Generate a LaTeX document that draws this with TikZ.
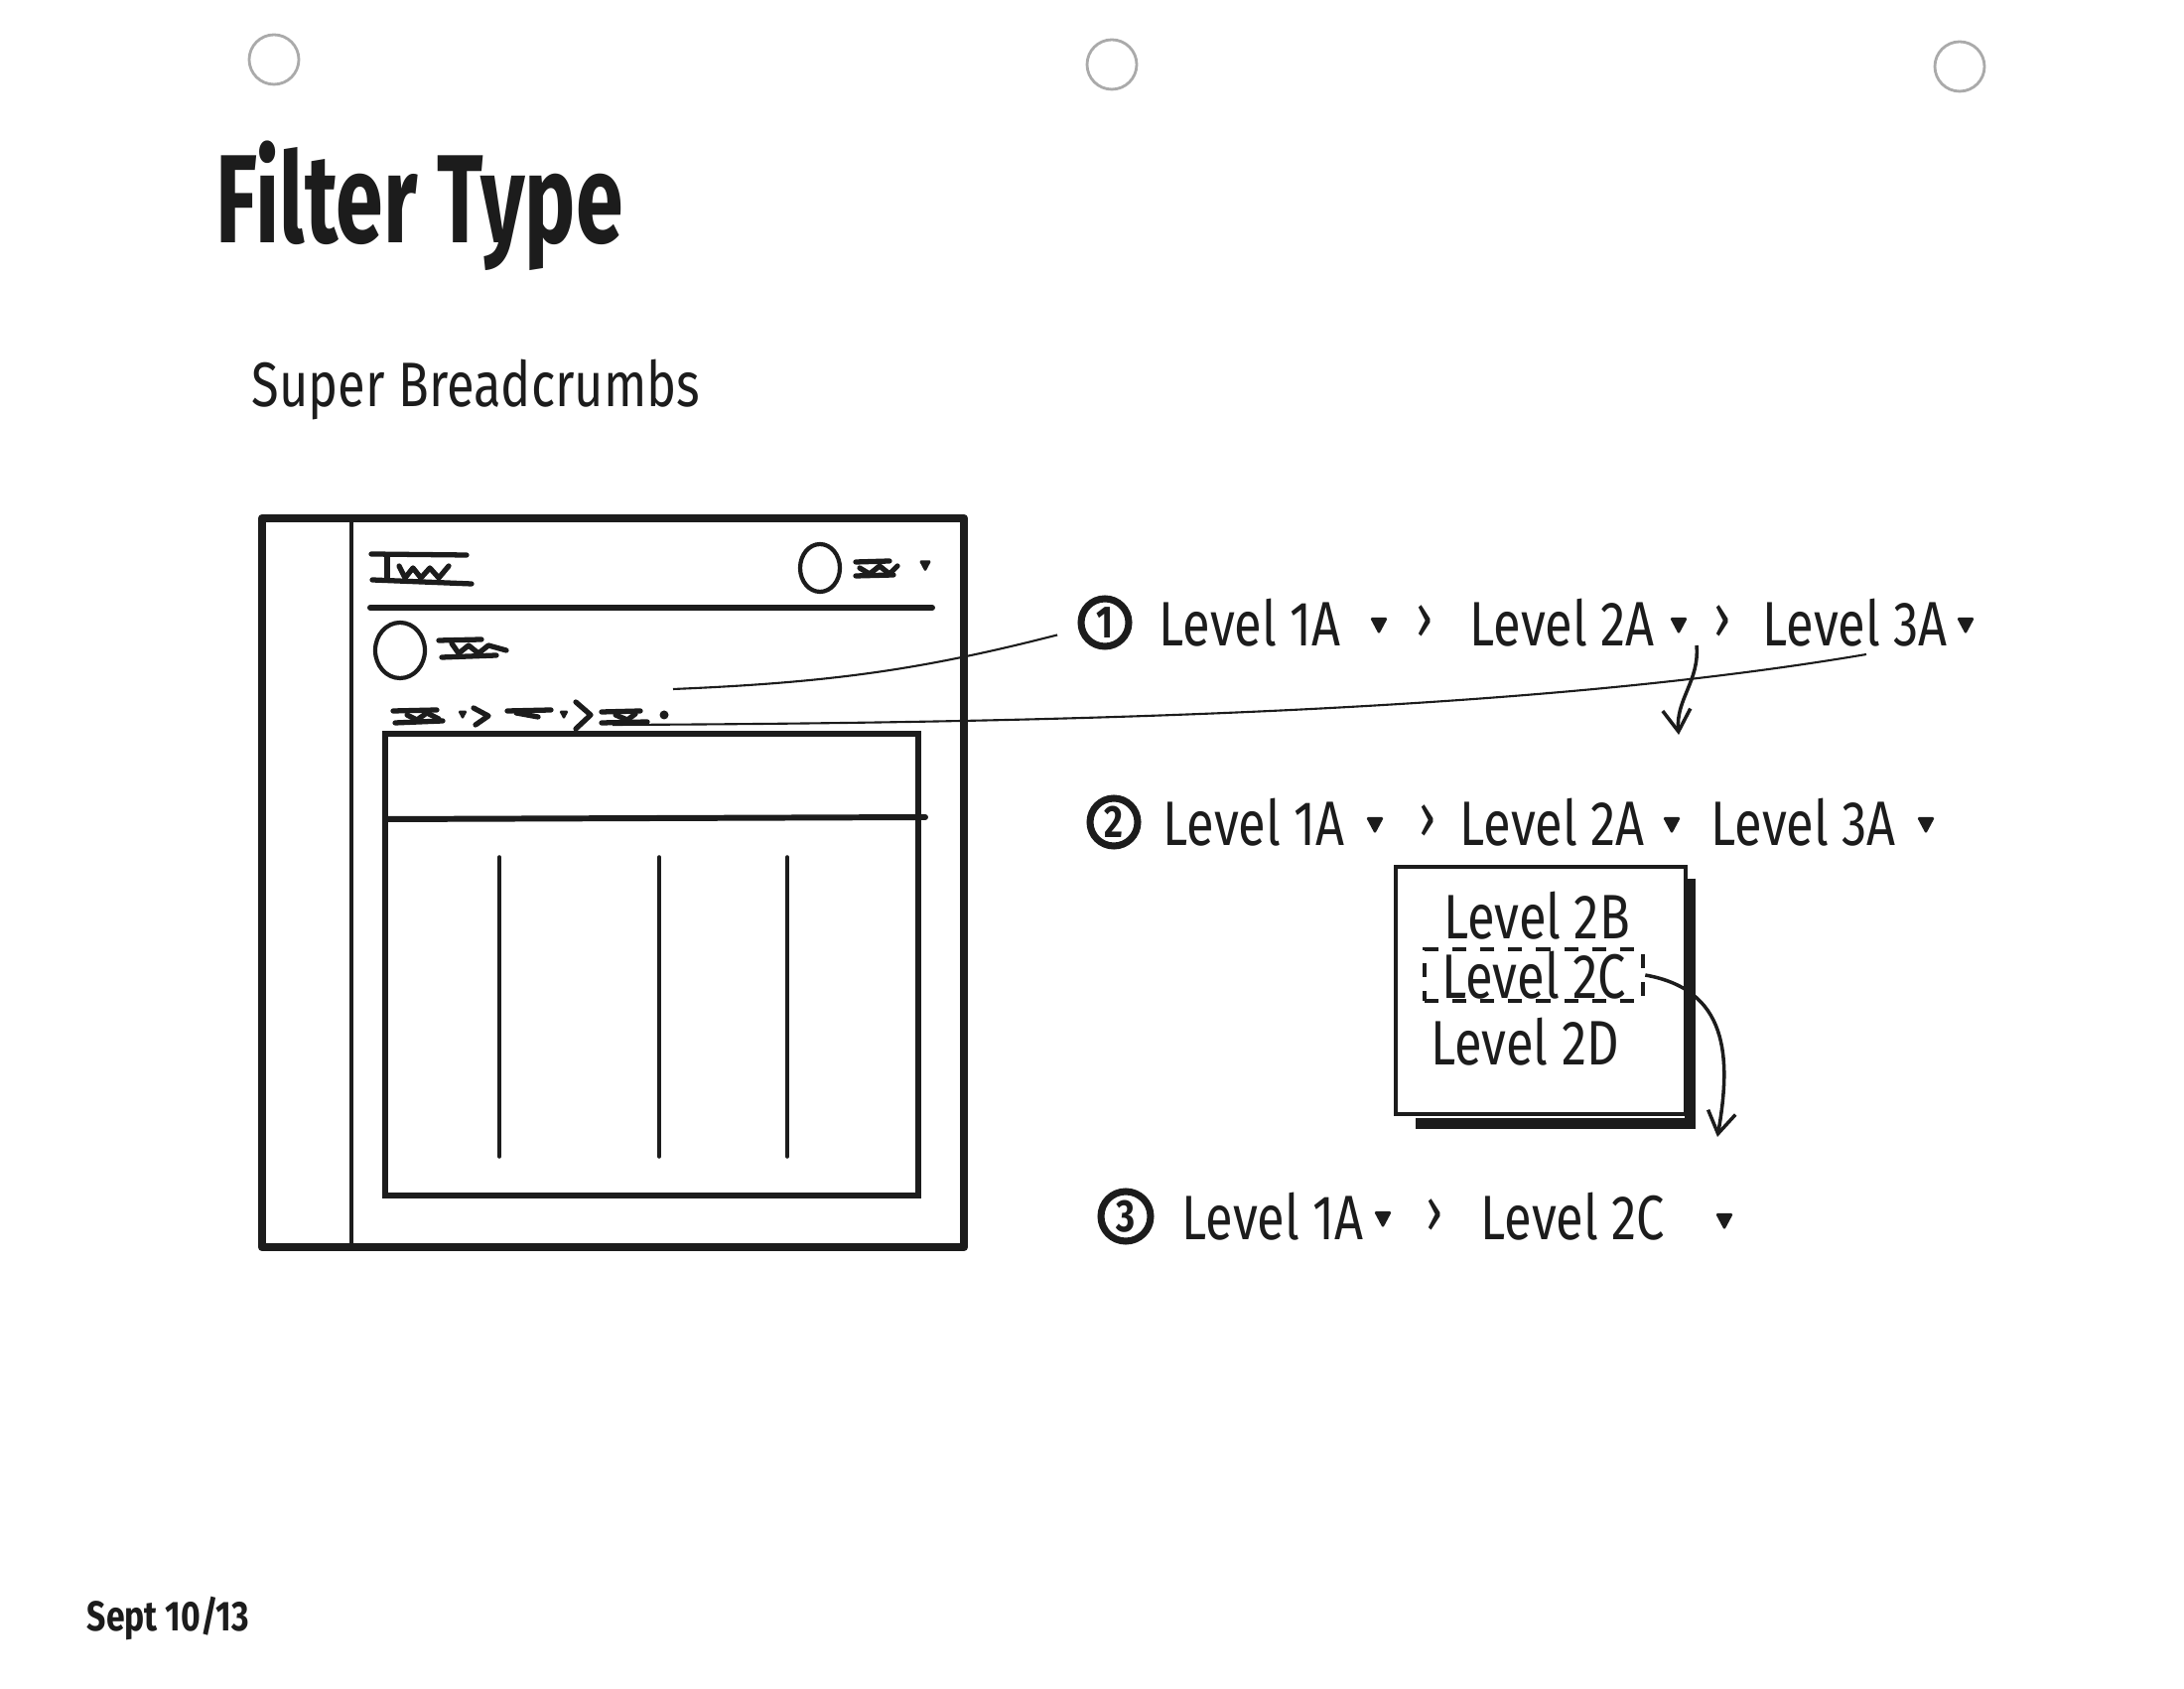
\documentclass[tikz,border=0pt]{standalone}
\usepackage{fontspec}
\newfontfamily\handfont[FakeStretch=0.8]{Fira Sans}
\newfontfamily\titlefont[FakeStretch=0.68]{Fira Sans}
\definecolor{Ink}{RGB}{28,28,28}
\definecolor{Punch}{RGB}{170,170,170}
\usetikzlibrary{arrows.meta,positioning,calc}
\tikzset{caret/.pic={\fill[Ink,rounded corners=0.5pt] (-0.09,0.08) -- (0.09,0.08) -- (0,-0.09) -- cycle;}}

\begin{document}
\begin{tikzpicture}[every node/.style={font=\handfont\fontsize{18}{20}\selectfont,text=Ink},
    crumb/.style={anchor=west,inner sep=0pt},
    sep/.style={inner sep=0pt},
    num/.style={circle,draw=Ink,line width=2pt,minimum size=0.48cm,inner sep=0pt,
                font=\handfont\bfseries\fontsize{13}{14}\selectfont},
    frame/.style={draw=Ink,line width=2.4pt,line join=round},
    rule/.style={draw=Ink,line width=1.7pt,line cap=round},
    thin/.style={draw=Ink,line width=1pt,line cap=round},
    scrib/.style={draw=Ink,line width=1.5pt,line cap=round,line join=round},
    lead/.style={draw=Ink,line width=0.6pt},
    arr/.style={draw=Ink,line width=1pt,-{Straight Barb[length=2.2mm,width=2.8mm]}}]
    \fill[white] (0,0) rectangle (22,17);
    \useasboundingbox (0,0) rectangle (22,17);
    % punch holes
    \foreach \x/\y in {2.76/16.40,11.20/16.35,19.74/16.33}
      \draw[Punch,line width=0.8pt] (\x,\y) circle (0.25);
    % headings
    \node[anchor=base west,inner sep=0pt,font=\titlefont\bfseries\fontsize{36}{40}\selectfont] (title) at (2.17,14.55) {Filter Type};
    \node[anchor=base west,inner sep=0pt,font=\handfont\fontsize{18}{22}\selectfont] (subtitle) at (2.53,12.90) {Super Breadcrumbs};
    \node[anchor=base west,inner sep=0pt,font=\handfont\bfseries\fontsize{12}{14}\selectfont] (date) at (0.87,0.58) {Sept 10/13};
    % page mockup
    \draw[frame] (2.64,11.78) rectangle (9.71,4.44);
    \draw[thin] (3.54,11.76) -- (3.54,4.47);
    \draw[scrib] (3.74,11.42) -- (4.70,11.41);
    \draw[scrib] (3.90,11.40) -- (3.90,11.17);
    \draw[scrib] (4.02,11.30) -- (4.08,11.18) -- (4.16,11.28) -- (4.24,11.18) -- (4.33,11.28) -- (4.42,11.18) -- (4.52,11.30);
    \draw[scrib] (3.75,11.16) -- (4.75,11.12);
    \draw[scrib,line width=1.2pt] (8.26,11.28) ellipse (0.2 and 0.24);
    \draw[scrib] (8.62,11.34) -- (8.96,11.35);
    \draw[scrib] (8.66,11.28) -- (8.76,11.22) -- (8.86,11.30) -- (8.96,11.22) -- (9.04,11.30);
    \draw[scrib] (8.62,11.20) -- (9.00,11.21);
    \pic[scale=0.7] at (9.32,11.30) {caret};
    \draw[rule] (3.73,10.88) -- (9.39,10.88);
    \draw[scrib,line width=1.2pt] (4.03,10.45) ellipse (0.25 and 0.28);
    \draw[scrib] (4.42,10.55) -- (4.85,10.56);
    \draw[scrib] (4.55,10.52) -- (4.62,10.42) -- (4.72,10.50) -- (4.82,10.42) -- (4.92,10.50) -- (5.10,10.45);
    \draw[scrib] (4.45,10.38) -- (5.00,10.40);
    % breadcrumb placeholder
    \draw[scrib] (3.96,9.84) -- (4.40,9.85);
    \draw[scrib] (4.10,9.80) -- (4.20,9.75) -- (4.30,9.82) -- (4.42,9.76);
    \draw[scrib] (3.98,9.72) -- (4.46,9.74);
    \pic[scale=0.55] at (4.66,9.80) {caret};
    \draw[scrib] (4.77,9.87) -- (4.92,9.79) -- (4.79,9.70);
    \draw[scrib] (5.11,9.84) -- (5.55,9.85);
    \draw[scrib] (5.20,9.82) -- (5.42,9.78);
    \pic[scale=0.55] at (5.68,9.80) {caret};
    \draw[scrib] (5.80,9.93) -- (5.95,9.80) -- (5.80,9.66);
    \draw[scrib] (6.06,9.83) -- (6.45,9.84);
    \draw[scrib] (6.20,9.80) -- (6.32,9.75) -- (6.40,9.81);
    \draw[scrib] (6.06,9.72) -- (6.52,9.73);
    \fill[Ink] (6.69,9.80) circle (0.045);
    % table
    \draw[rule] (3.88,9.61) rectangle (9.25,4.96);
    \draw[rule] (3.88,8.75) -- (9.32,8.77);
    \foreach \x in {5.03,6.64,7.93}
      \draw[thin] (\x,8.37) -- (\x,5.35);
    % step 1
    \node[num] (n1) at (11.13,10.73) {1};
    \node[crumb] (c1a) at (11.67,10.73) {Level 1A};
    \pic at (13.89,10.70) {caret};
    \node[sep] (s1a) at (14.35,10.73) {›};
    \node[crumb] (c1b) at (14.80,10.73) {Level 2A};
    \pic at (16.91,10.70) {caret};
    \node[sep] (s1b) at (17.35,10.73) {›};
    \node[crumb] (c1c) at (17.75,10.73) {Level 3A};
    \pic at (19.80,10.70) {caret};
    % step 2
    \node[num] (n2) at (11.22,8.72) {2};
    \node[crumb] (c2a) at (11.71,8.72) {Level 1A};
    \pic at (13.85,8.69) {caret};
    \node[sep] (s2a) at (14.38,8.72) {›};
    \node[crumb] (c2b) at (14.70,8.72) {Level 2A};
    \pic at (16.84,8.69) {caret};
    \node[crumb] (c2c) at (17.23,8.72) {Level 3A};
    \pic at (19.40,8.69) {caret};
    % open menu
    \node[draw=Ink,line width=1.4pt,minimum width=2.92cm,minimum height=2.49cm,inner sep=0pt] (menu) at (15.52,7.025) {};
    \draw[Ink,line width=3pt] ([xshift=0.02cm,yshift=-0.14cm]menu.north east) |- ([xshift=0.22cm,yshift=-0.07cm]menu.south west);
    \node (o2b) at (15.48,7.78) {Level 2B};
    \node[draw=Ink,dashed,line width=1.3pt,dash pattern=on 4pt off 4pt,minimum width=2.2cm,minimum height=0.52cm,inner sep=0pt] (o2c) at (15.45,7.18) {Level 2C};
    \node (o2d) at (15.36,6.51) {Level 2D};
    % step 3
    \node[num,minimum size=0.5cm] (n3) at (11.34,4.75) {3};
    \node[crumb] (c3a) at (11.90,4.75) {Level 1A};
    \pic at (13.93,4.72) {caret};
    \node[sep] (s3a) at (14.45,4.75) {›};
    \node[crumb] (c3b) at (14.91,4.75) {Level 2C};
    \pic at (17.37,4.70) {caret};
    % connectors
    \coordinate (bcA) at (6.78,10.06);
    \coordinate (bcB) at (6.17,9.70);
    \coordinate (bcE) at (18.80,10.41);
    \draw[lead,shorten >=0.22cm] (bcA) to[bend right=6] (n1);
    \draw[lead] (bcB) .. controls (11,9.72) and (15.5,9.85) .. (bcE);
    \coordinate (d1) at (17.09,10.50);
    \coordinate (d2) at (16.91,9.60);
    \draw[arr] (d1) to[out=-85,in=95] (d2);
    \coordinate (d3) at (17.30,5.55);
    \draw[arr] (o2c.east) to[out=-10,in=80,looseness=1.2] (d3);
\end{tikzpicture}
\end{document}
